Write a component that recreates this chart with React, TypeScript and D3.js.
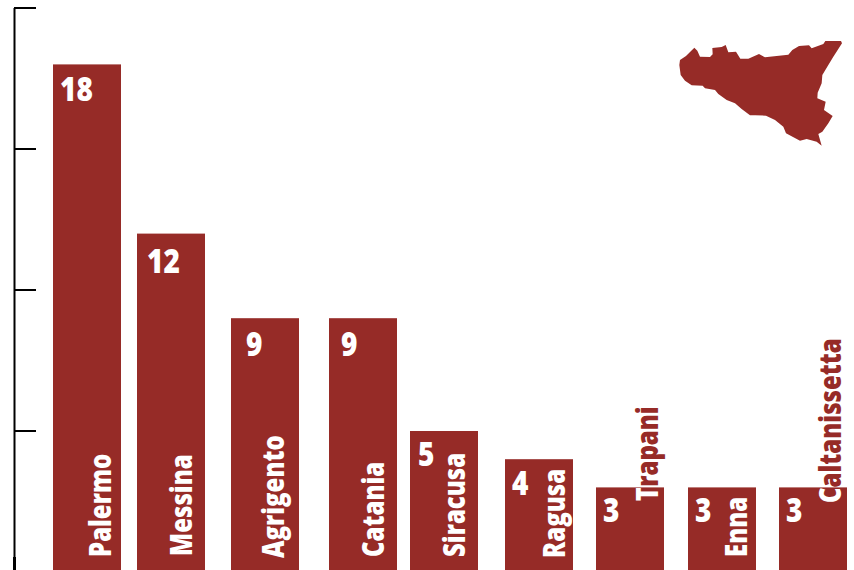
import React from "react";
import * as d3 from "d3";

const provinces = ["Palermo","Messina","Agrigento","Catania","Siracusa","Ragusa","Trapani","Enna","Caltanissetta"];
const counts = [18,12,9,9,5,4,3,3,3];
const axisTicks = [0,5,10,15,20];
const sicilyOutline: [number,number][] = [[60,120],[78,108],[103,83],[112,92],[120,110],[150,111],[158,103],[157,84],[185,81],[197,75],[205,97],[228,95],[241,116],[265,116],[297,102],[315,112],[385,104],[397,90],[417,78],[447,76],[455,85],[490,72],[496,63],[543,63],[546,70],[520,110],[505,135],[487,165],[485,190],[473,218],[472,235],[497,245],[492,270],[518,288],[505,310],[487,335],[475,342],[485,377],[470,365],[440,357],[420,362],[378,340],[370,320],[345,300],[318,287],[285,286],[270,286],[245,267],[225,250],[200,240],[175,222],[165,210],[135,205],[128,197],[95,196],[75,182],[62,165],[58,135]];

const RED = "#962b27";
const FONT = "'Open Sans',sans-serif";
const y = d3.scaleLinear().domain([0,20]).range([572,8]);
const x = d3.scaleOrdinal<string,number>().domain(provinces).range([53,137,231,329,410,505,596,688,779]);
const barW = 68;
const numX = d3.scaleOrdinal<string,number>().domain(provinces).range([60,147,246,341,418,512,603,695,786]);
const numBase = d3.scaleOrdinal<string,number>().domain(provinces).range([101,273,356,356,466,495,522,522,522]);
const labelX = d3.scaleOrdinal<string,number>().domain(provinces).range([111,192,284,384,465,565,658,747,841]);
const labelY = d3.scaleOrdinal<string,number>().domain(provinces).range([557,556,558,557,557,558,501,557,503]);
const mapX = d3.scaleLinear().domain([0,3]).range([660,661]);
const mapY = d3.scaleLinear().domain([0,3]).range([20,21]);
const mapLine = d3.line<[number,number]>().x(d=>mapX(d[0])).y(d=>mapY(d[1])).curve(d3.curveLinearClosed);

export default function App(){
  return (
    <svg width={854} height={570} style={{position:"absolute",left:0,top:0}}>
      <defs>
        {provinces.map((p,i)=>(
          <clipPath key={p} id={"c"+i}><rect x={x(p)} y={y(counts[i])} width={barW} height={y(0)-y(counts[i])}/></clipPath>
        ))}
      </defs>
      <g stroke="#000" fill="none">
        <line x1={14.5} x2={14.5} y1={y(20)} y2={570} strokeWidth={2}/>
        <line x1={14.5} x2={14.5} y1={557} y2={570} strokeWidth={3}/>
        {axisTicks.map(t=><line key={t} x1={14} x2={36} y1={y(t)} y2={y(t)} strokeWidth={2}/>)}
      </g>
      {provinces.map((p,i)=>(
        <rect key={p} x={x(p)} y={y(counts[i])} width={barW} height={y(0)-y(counts[i])} fill={RED}/>
      ))}
      <path d={mapLine(sicilyOutline)!} fill={RED}/>
      <g fontFamily={FONT} fontWeight={800}>
        {provinces.map((p,i)=>(
          <text key={p} transform={`translate(${numX(p)},${numBase(p)}) scale(0.85,1)`} fontSize={33} fill="#fff">{counts[i]}</text>
        ))}
        {provinces.map((p,i)=>{
          const t=`translate(${labelX(p)},${labelY(p)}) rotate(-90) scale(0.8,1)`;
          return (
            <g key={p} fontSize={30}>
              <text transform={t} fill={RED}>{p}</text>
              <g clipPath={`url(#c${i})`}><text transform={t} fill="#fff">{p}</text></g>
            </g>
          );
        })}
      </g>
    </svg>
  );
}
